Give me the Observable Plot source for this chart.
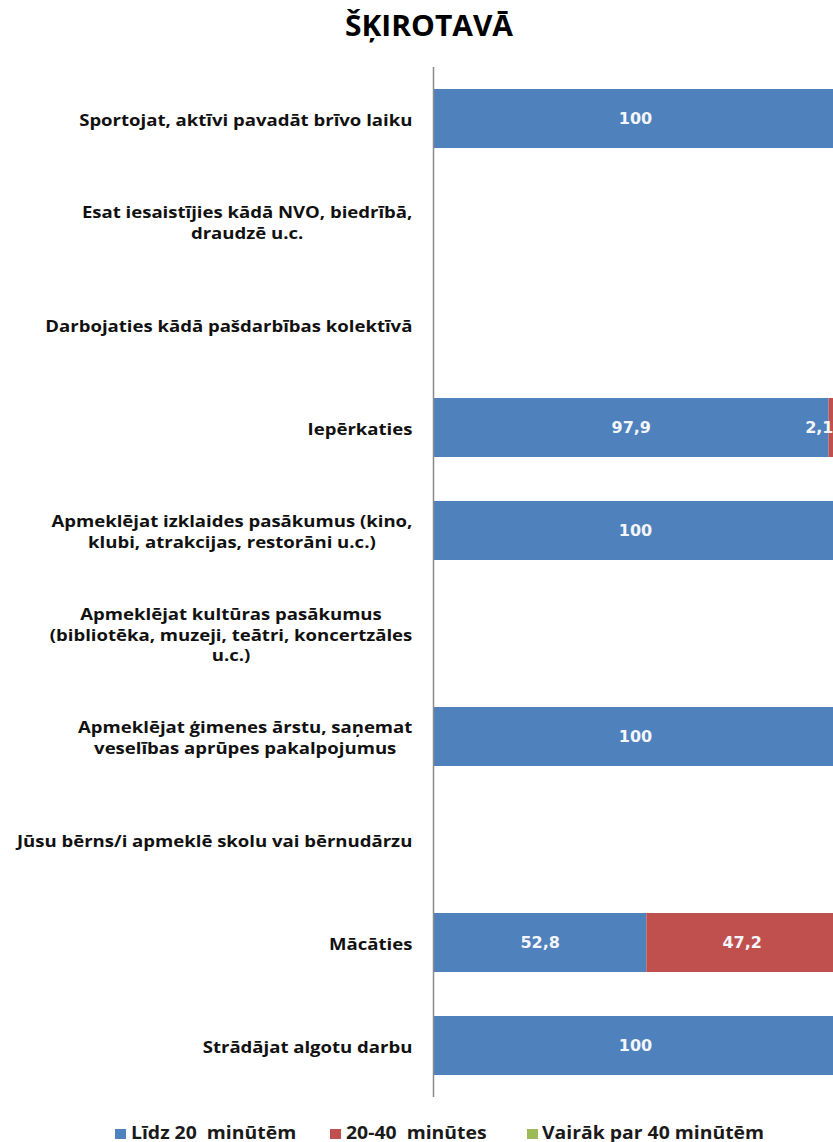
<!DOCTYPE html>
<html><head><meta charset="utf-8">
<script src="https://cdn.jsdelivr.net/npm/d3@7"></script>
<script src="https://cdn.jsdelivr.net/npm/@observablehq/plot@0.6"></script>
<style>
body{margin:0;background:#fff;width:833px;height:1142px;overflow:hidden;position:relative;font-family:"Open Sans",sans-serif;}
#title{position:absolute;left:0;top:0;width:858px;text-align:center;font-weight:700;font-size:28px;line-height:50px;color:#000;transform:scaleX(1.07);transform-origin:429px 25px;}
#chart{position:absolute;left:0;top:50px;width:833px;overflow:hidden;}
#chart svg{overflow:hidden;}
#legend{position:absolute;left:0;top:1122px;width:833px;height:22px;font-weight:700;font-size:17px;color:#1a1a1a;white-space:pre;}
#legend .sw{position:absolute;top:7px;width:11px;height:10px;}
#legend .tx{position:absolute;top:0;line-height:22px;transform:scaleX(1.14);transform-origin:left center;}
</style></head>
<body>
<div id="title">ŠĶIROTAVĀ</div>
<div id="chart"></div>
<div id="legend"></div>
<script>
const categories = [
  "Sportojat, aktīvi pavadāt brīvo laiku",
  "Esat iesaistījies kādā NVO, biedrībā,\ndraudzē u.c.",
  "Darbojaties kādā pašdarbības kolektīvā",
  "Iepērkaties",
  "Apmeklējat izklaides pasākumus (kino,\nklubi, atrakcijas, restorāni u.c.)",
  "Apmeklējat kultūras pasākumus\n(bibliotēka, muzeji, teātri, koncertzāles\nu.c.)",
  "Apmeklējat ģimenes ārstu, saņemat\nveselības aprūpes pakalpojumus",
  "Jūsu bērns/i apmeklē skolu vai bērnudārzu",
  "Mācāties",
  "Strādājat algotu darbu"
];
const seriesNames = ["Līdz 20  minūtēm", "20-40  minūtes", "Vairāk par 40 minūtēm"];
const seriesColors = ["#4F81BD", "#C0504D", "#9BBB59"];
const upTo20     = [100, 0, 0, 97.9, 100, 0, 100, 0, 52.8, 100];
const from20to40 = [0, 0, 0, 2.1, 0, 0, 0, 0, 47.2, 0];
const over40     = [0, 0, 0, 0, 0, 0, 0, 0, 0, 0];

const seriesValues = [upTo20, from20to40, over40];
const rows = [];
categories.forEach((c, i) => {
  let acc = 0;
  seriesValues.forEach((vals, s) => {
    const v = vals[i];
    if (v > 0) rows.push({cat: c, series: seriesNames[s], value: v, x1: acc, x2: acc + v});
    acc += v;
  });
});
const fmt = v => String(v).replace(".", ",");
const big = rows.filter(d => d.value >= 10);
const small = rows.filter(d => d.value < 10);
const labelFont = "Verdana, 'DejaVu Sans', sans-serif";

const plot = Plot.plot({
  width: 833,
  height: 1060,
  marginTop: 17,
  marginBottom: 13,
  marginLeft: 433,
  marginRight: 0,
  x: {domain: [0, 100], range: [433, 837], axis: null},
  y: {domain: categories, paddingInner: 0.43, paddingOuter: 0.215, axis: null},
  color: {domain: seriesNames, range: seriesColors},
  style: {background: "#fff", overflow: "hidden"},
  marks: [
    Plot.barX(rows, {x1: "x1", x2: "x2", y: "cat", fill: "series"}),
    Plot.text(big, {x: d => (d.x1 + d.x2) / 2, y: "cat", text: d => fmt(d.value), fill: "#f4f6fb",
      fontFamily: labelFont, fontWeight: "bold", fontSize: 16}),
    Plot.text(small, {x: "x2", y: "cat", text: d => fmt(d.value), fill: "#f4f6fb", textAnchor: "end", dx: -4,
      fontFamily: labelFont, fontWeight: "bold", fontSize: 16}),
    Plot.ruleX([0], {stroke: "#8a8a8a", strokeWidth: 1.5}),
    Plot.text(categories, {y: d => d, text: d => d, frameAnchor: "left", textAnchor: "middle",
      lineHeight: 1.28, fontSize: 16, fontWeight: "bold", fill: "#111",
      fontFamily: "'Open Sans', sans-serif"})
  ]
});
document.getElementById("chart").appendChild(plot);

// Excel-style category labels: lines centred inside a block whose right edge is aligned
const rightEdge = 412, sx = 1.16;
const catSet = new Set(categories.map(c => c.replace(/\n/g, "")));
plot.querySelectorAll("text").forEach(t => {
  if (!catSet.has(t.textContent)) return;
  const tr = t.getAttribute("transform") || "";
  const m = tr.match(/translate\(\s*([-\d.e]+)[ ,]+([-\d.e]+)\s*\)/);
  let X = m ? +m[1] : 0, Y = m ? +m[2] : 0;
  if (!m) { X = +(t.getAttribute("x") || 0); Y = +(t.getAttribute("y") || 0); }
  const b = t.getBBox();
  const right = m ? b.x + b.width : (b.x + b.width - X);
  const newX = rightEdge - sx * right;
  if (m) t.setAttribute("transform", `translate(${newX},${Y}) scale(${sx},1)`);
  else {
    t.setAttribute("transform", `translate(${newX - X * sx},0) scale(${sx},1)`);
  }
});

const lg = document.getElementById("legend");
const swX = [115, 330, 527], txX = [131, 346, 542];
seriesNames.forEach((n, i) => {
  const sw = document.createElement("div"); sw.className = "sw";
  sw.style.left = swX[i] + "px"; sw.style.background = seriesColors[i];
  const tx = document.createElement("div"); tx.className = "tx";
  tx.style.left = txX[i] + "px"; tx.textContent = n;
  lg.appendChild(sw); lg.appendChild(tx);
});
</script>
</body></html>
